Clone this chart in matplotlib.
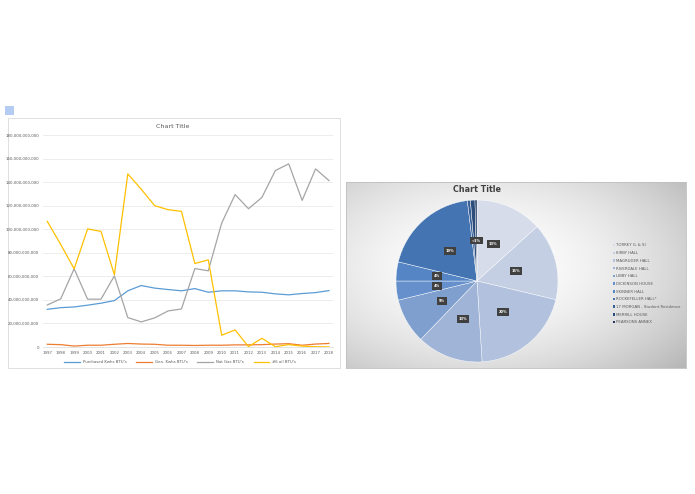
import matplotlib
matplotlib.use('Agg')
import matplotlib.pyplot as plt
import numpy as np
from matplotlib.patches import Rectangle, Patch
from matplotlib.ticker import FuncFormatter

# ---- line chart data (billions of BTU) ----
years = list(range(1997, 2019))
purchased = [32, 33.4, 34, 35.5, 37.2, 39.4, 47.7, 52.2, 50, 48.8, 47.7,
             49.6, 46.5, 47.7, 47.7, 46.8, 46.5, 45.1, 44.3, 45.4, 46.2, 47.9]
generated = [2.3, 2.0, 0.8, 1.5, 1.5, 2.3, 3.0, 2.5, 2.3, 1.5, 1.5,
             1.3, 1.5, 1.5, 1.8, 1.8, 2.0, 2.5, 2.8, 1.5, 2.5, 3.0]
nat_gas = [35.7, 40.9, 66.4, 40.6, 40.6, 60.4, 25.0, 21.3, 24.7, 30.6, 32.3,
           66.6, 64.7, 105.2, 129.4, 117.4, 127.0, 149.8, 155.5, 124.5, 151.2, 141.3]
oil6 = [106.6, 87.0, 66.4, 100.2, 98.2, 61.3, 147.0, 134.0, 120.0, 116.6, 115.2,
        70.9, 74.0, 10.0, 14.5, 0.3, 7.4, 0.3, 2.0, 0.8, 0.2, 0.1]
series_names = ["Purchased Kwhs BTU's", "Gen. Kwhs BTU's", "Nat Gas BTU's", "#6 oil BTU's"]
series_colors = ['#5B9BD5', '#ED7D31', '#A5A5A5', '#FFC000']

# ---- pie chart data (%) ----
buildings = ['TORREY (L & S)', 'KIRBY HALL', 'MAGRUDER HALL', 'RIVERDALE HALL',
             'LIBBY HALL', 'DICKINSON HOUSE', 'SKINNER HALL', 'ROCKEFELLER HALL*',
             '17 MORGAN - Student Residence', 'MERRILL HOUSE', 'PEARSONS ANNEX']
shares = [13.3, 15.4, 20.3, 13.2, 9.0, 3.8, 3.8, 19.3, 0.6, 0.9, 0.4]
pie_colors = ['#d6dcea', '#c4cfe4', '#b2c2de', '#9fb4d7', '#7f9fcf', '#6590cb',
              '#5585c4', '#4574b3', '#385f96', '#2c4d7c', '#203b62']

W, H = 695, 494
fig = plt.figure(figsize=(6.95, 4.94), dpi=100)


def fx(px):
    return px / W


def fy(py):
    return 1 - py / H


# small selection square
fig.patches.append(Rectangle((fx(5), fy(115)), fx(9), 9 / H, transform=fig.transFigure,
                             facecolor='#b4cbf2', edgecolor='none', zorder=-5))

# left chart frame
fig.patches.append(Rectangle((fx(8), fy(368)), fx(332), 250 / H, transform=fig.transFigure,
                             facecolor='white', edgecolor='#d9d9d9', linewidth=0.6, zorder=-5))
fig.text(fx(173), fy(126), 'Chart Title', ha='center', va='center', fontsize=4.6, color='#595959')

ax = fig.add_axes([fx(43.3), fy(347), fx(289.7), 212 / H])
x = np.arange(len(years))
for vals, name, col in zip([purchased, generated, nat_gas, oil6], series_names, series_colors):
    ax.plot(x, vals, color=col, linewidth=0.9, label=name)
ax.set_xlim(-0.3, len(years) - 0.7)
ax.set_ylim(0, 180)
ax.set_yticks(np.arange(0, 181, 20))
ax.yaxis.set_major_formatter(FuncFormatter(lambda v, p: f'{v * 1e9:,.0f}'))
ax.set_xticks(x)
ax.set_xticklabels([str(y) for y in years])
ax.tick_params(axis='both', labelsize=2.8, colors='#595959', length=0, pad=3)
ax.grid(axis='y', color='#e6e6e6', linewidth=0.5)
ax.set_axisbelow(True)
for s in ['top', 'right', 'left']:
    ax.spines[s].set_visible(False)
ax.spines['bottom'].set_color('#d9d9d9')
ax.spines['bottom'].set_linewidth(0.5)
ax.patch.set_alpha(0)
fig.legend(loc='center', bbox_to_anchor=(fx(180), fy(362)), ncol=4, frameon=False,
           fontsize=2.8, handlelength=4, columnspacing=2.5, labelcolor='#595959')

# right chart frame with radial gradient
bx = fig.add_axes([fx(346), fy(368), fx(340), 186 / H])
gx, gy = np.meshgrid(np.linspace(-1, 1, 340), np.linspace(-1, 1, 186))
rr = np.sqrt(((gx + 0.2) / 1.15) ** 2 + ((gy + 0.1) / 1.2) ** 2)
shade = 1 - 0.16 * np.clip(rr, 0, 1.4) ** 1.8
img = np.dstack([shade, shade, shade])
bx.imshow(img, aspect='auto', extent=(0, 1, 0, 1), interpolation='bilinear')
bx.set_xticks([])
bx.set_yticks([])
for s in bx.spines.values():
    s.set_color('#bfbfbf')
    s.set_linewidth(0.6)

fig.text(fx(477), fy(190), 'Chart Title', ha='center', va='center', fontsize=5.8,
         fontweight='bold', color='#404040')

pax = fig.add_axes([fx(396), fy(362), fx(162), 162 / H])
total = sum(shares)


def pct_label(p):
    if p >= 1:
        return f'{p:.0f}%'
    return '<1%' if abs(p - 100 * shares[-1] / total) < 1e-6 else ''


wedges, _, autotexts = pax.pie(shares, colors=pie_colors, startangle=90, counterclock=False,
                                autopct=pct_label, pctdistance=0.5,
                                wedgeprops=dict(edgecolor='white', linewidth=0.3))
for t in autotexts:
    t.set_fontsize(2.6)
    t.set_color('white')
    t.set_fontweight('bold')
    if t.get_text():
        t.set_bbox(dict(boxstyle='square,pad=0.5', facecolor='#404040', edgecolor='none'))
pax.set_xlim(-1, 1)
pax.set_ylim(-1, 1)
pax.set_aspect('auto')

handles = [Patch(facecolor=c, edgecolor='none') for c in pie_colors]
fig.legend(handles, buildings, loc='upper left', bbox_to_anchor=(fx(609), fy(240)),
           frameon=False, fontsize=2.8, handlelength=0.6, handleheight=0.6,
           handletextpad=0.4, labelspacing=0.95, labelcolor='#595959')

fig.savefig('out.png', dpi=100)
